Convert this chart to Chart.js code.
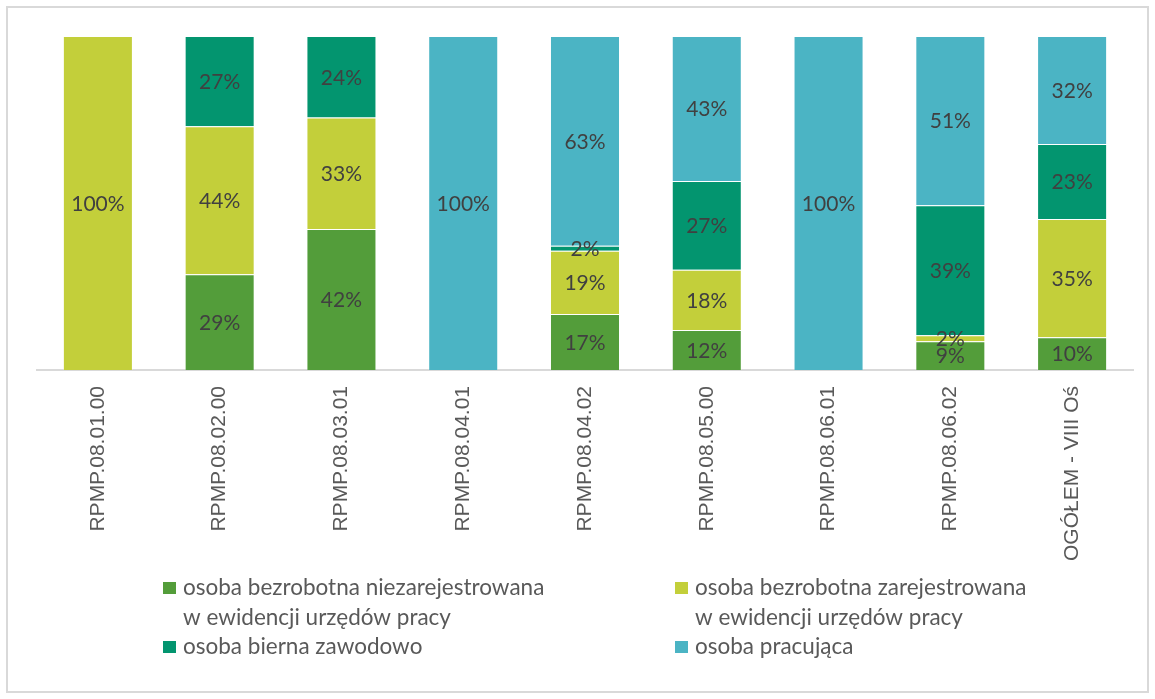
<!DOCTYPE html>
<html>
<head>
<meta charset="utf-8">
<script src="https://cdn.jsdelivr.net/npm/chart.js@4"></script>
<style>
  html, body { margin: 0; padding: 0; background: #fff; }
  #wrap { position: absolute; left: 0; top: 0; width: 1155px; height: 699px; }
</style>
</head>
<body>
<div id="wrap"><canvas id="c" width="1155" height="699"></canvas></div>
<script>
const categories = ["RPMP.08.01.00", "RPMP.08.02.00", "RPMP.08.03.01", "RPMP.08.04.01", "RPMP.08.04.02", "RPMP.08.05.00", "RPMP.08.06.01", "RPMP.08.06.02", "OGÓŁEM - VIII Oś"];
const unregistered = [0, 28.7, 42.2, 0, 16.8, 12.0, 0, 8.6, 9.8];
const registered   = [100, 44.3, 33.4, 0, 18.9, 18.0, 0, 1.8, 35.4];
const inactive     = [0, 27.0, 24.4, 0, 1.5, 26.6, 0, 38.9, 22.5];
const employed     = [0, 0, 0, 100, 62.8, 43.4, 100, 50.7, 32.3];
const seriesNames = [
  ["osoba bezrobotna niezarejestrowana", "w ewidencji urzędów pracy"],
  ["osoba bezrobotna zarejestrowana", "w ewidencji urzędów pracy"],
  ["osoba bierna zawodowo"],
  ["osoba pracująca"]
];
const colors = ["#539D3A", "#C3CF3A", "#03956F", "#4BB4C4"];

const frame = {
  id: 'frame',
  beforeDraw(chart) {
    const ctx = chart.ctx;
    ctx.save();
    ctx.fillStyle = '#fff';
    ctx.fillRect(0, 0, chart.width, chart.height);
    ctx.strokeStyle = '#d9d9d9';
    ctx.lineWidth = 2;
    ctx.strokeRect(7, 7, 1141, 685);
    ctx.restore();
  }
};

const dataLabels = {
  id: 'dataLabels',
  afterDatasetsDraw(chart) {
    const ctx = chart.ctx;
    ctx.save();
    ctx.font = '21px Lato';
    ctx.fillStyle = '#404040';
    ctx.textAlign = 'center';
    ctx.textBaseline = 'middle';
    chart.data.datasets.forEach((ds, di) => {
      const meta = chart.getDatasetMeta(di);
      meta.data.forEach((bar, i) => {
        const v = ds.data[i];
        if (!v) return;
        const p = bar.getProps(['x', 'y', 'base'], true);
        ctx.fillText(Math.round(v) + '%', p.x, (p.y + p.base) / 2 + 1);
      });
    });
    ctx.restore();
  }
};

const legendBox = {
  id: 'legendBox',
  afterDraw(chart) {
    const ctx = chart.ctx;
    ctx.save();
    ctx.font = '22.5px Lato';
    ctx.textBaseline = 'middle';
    const cols = [163, 675];
    const rows = [588, 588, 647, 647];
    chart.data.datasets.forEach((ds, di) => {
      const x = cols[di % 2];
      const y = rows[di];
      ctx.fillStyle = ds.backgroundColor;
      ctx.fillRect(x, y - 6, 13, 12);
      ctx.fillStyle = '#595959';
      const lines = seriesNames[di];
      lines.forEach((ln, li) => {
        ctx.fillText(ln, x + 20, y + li * 30);
      });
    });
    ctx.restore();
  }
};

new Chart(document.getElementById('c'), {
  type: 'bar',
  data: {
    labels: categories,
    datasets: [unregistered, registered, inactive, employed].map((d, i) => ({
      label: seriesNames[i].join(' '),
      data: d,
      backgroundColor: colors[i],
      borderColor: 'rgba(255,255,255,0.22)',
      borderWidth: 1,
      categoryPercentage: 1,
      barPercentage: 0.575
    }))
  },
  options: {
    responsive: false,
    animation: false,
    layout: { padding: { left: 37, right: 22, top: 36, bottom: 0 } },
    plugins: { legend: { display: false }, tooltip: { enabled: false } },
    scales: {
      x: {
        stacked: true,
        grid: { display: false, drawTicks: false },
        border: { display: true, color: '#d9d9d9', width: 2 },
        ticks: {
          minRotation: 90, maxRotation: 90, padding: 16,
          color: '#595959',
          font: { family: 'Liberation Sans', size: 21 }
        },
        afterFit(scale) { scale.height = 329; }
      },
      y: {
        stacked: true, display: false, min: 0, max: 100
      }
    }
  },
  plugins: [frame, dataLabels, legendBox]
});
</script>
</body>
</html>
